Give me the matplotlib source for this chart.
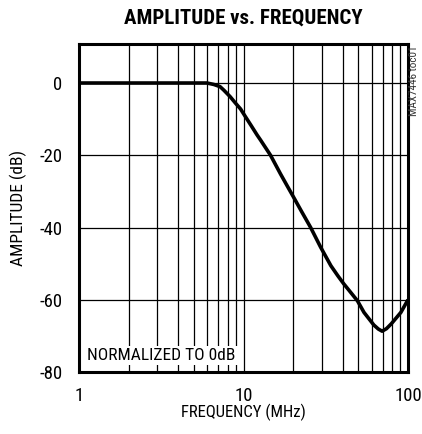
import numpy as np
import matplotlib.pyplot as plt

# curve
freq = [1, 3, 6.0, 6.6, 7.2, 7.6, 8.3, 8.95, 9.6, 10.3, 11.1, 12.1, 12.7, 14.6,
        16.8, 18.5, 20.1, 22.5, 25.6, 29.4, 34, 37.5, 40.7, 44, 49.3, 54, 62, 66,
        69.6, 74, 79, 90.5, 100]
amp = [0, 0, 0, -0.4, -1.0, -2.0, -3.8, -5.6, -7.2, -9.4, -11.7, -14.4, -15.8, -20,
       -25.2, -28.6, -31.5, -35.5, -40, -45.4, -50.6, -53.4, -55.6, -57.5, -60.3,
       -63.5, -67, -68.1, -68.7, -68.0, -66.7, -63.5, -60]

xticks = [1, 10, 100]
yticks = [0, -20, -40, -60, -80]

plt.rcParams['font.family'] = ['Roboto Condensed', 'Liberation Sans Narrow',
                               'Roboto', 'DejaVu Sans']

fig = plt.figure(figsize=(4.22, 4.34), dpi=100)
ax = fig.add_axes([79/422, 1-372/434, 329/422, 328/434])

ax.plot(freq, amp, color='black', lw=2.6, solid_joinstyle='round',
        solid_capstyle='butt', zorder=3)

ax.set_xscale('log')
ax.set_xlim(1, 100)
ax.set_ylim(-80, 10.8)

# grid: every 1..10 and 10..100, every 20 dB
for d in [1, 10]:
    for k in range(2, 10):
        ax.axvline(d*k, color='black', lw=0.9, zorder=1)
ax.axvline(10, color='black', lw=0.9, zorder=1)
for y in [0, -20, -40, -60]:
    ax.axhline(y, color='black', lw=0.9, zorder=1)

ax.set_xticks(xticks)
ax.set_xticklabels([str(t) for t in xticks])
ax.set_xticks([], minor=True)
ax.set_yticks(yticks)
ax.set_yticklabels([str(t) for t in yticks])
ax.tick_params(length=0, labelsize=13.5)
ax.tick_params(axis='x', pad=11)
ax.tick_params(axis='y', pad=12)

for s in ax.spines.values():
    s.set_linewidth(2.2)
    s.set_zorder(4)

ax.set_xlabel('FREQUENCY (MHz)', fontsize=12, labelpad=-1)
ax.set_ylabel('AMPLITUDE (dB)', fontsize=12.5, labelpad=9)

fig.text(243/422, 1-18/434, 'AMPLITUDE vs. FREQUENCY', ha='center', va='center',
         fontsize=15, fontweight='bold')

ax.text(1.12, -75.5, 'NORMALIZED TO 0dB', fontsize=12.5, va='center', ha='left',
        zorder=2, bbox=dict(facecolor='white', edgecolor='none', pad=1.5))

fig.text(414/422, 1-46/434, 'MAX7446 toc01', rotation=90, ha='center', va='top',
         fontsize=8, color='#333333')

plt.savefig('out.png', dpi=100)
